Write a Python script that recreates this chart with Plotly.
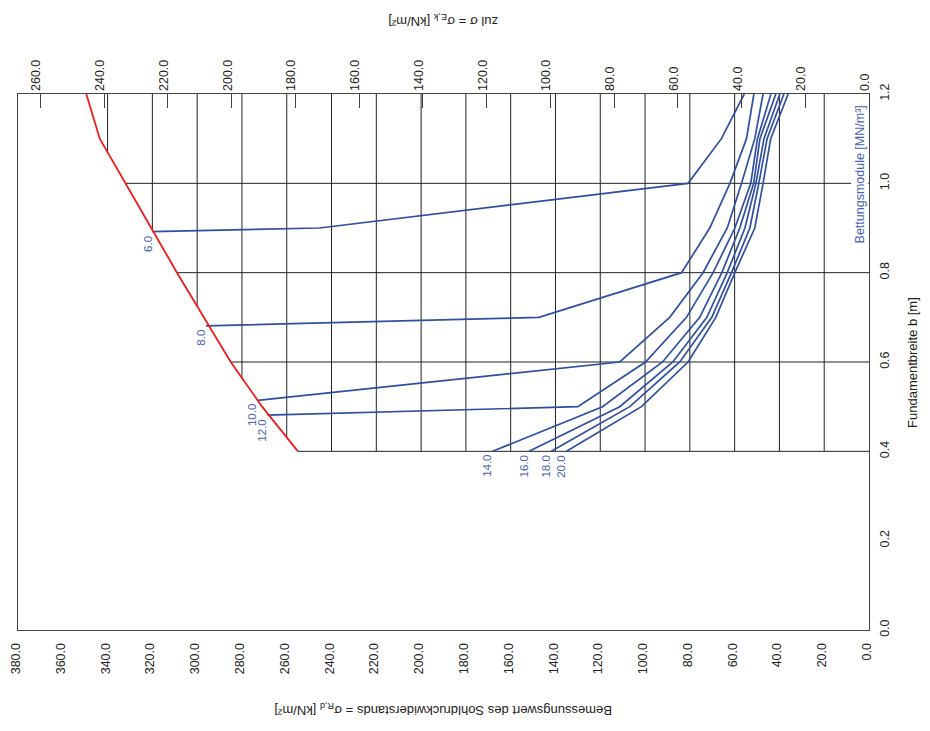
import numpy as np
import plotly.graph_objects as go

# ---------------- data (sigma_R,d in kN/m2 on the bottom axis, b in m) ----------------
red_b = [0.4, 0.5, 0.6, 0.7, 0.8, 0.9, 1.0, 1.1, 1.2]
red_sigma = [255.0, 271.0, 285.0, 297.0, 309.0, 320.5, 332.0, 343.5, 349.5]

ks_names = ["6.0", "8.0", "10.0", "12.0", "14.0", "16.0", "18.0", "20.0"]

ks6_b = [0.892, 0.9, 1.0, 1.1, 1.2]
ks6_sigma = [320.0, 245.4, 80.8, 65.9, 55.7]
ks8_b = [0.681, 0.7, 0.8, 0.9, 1.0, 1.1, 1.2]
ks8_sigma = [296.1, 147.4, 83.7, 71.1, 62.1, 54.7, 51.4]
ks10_b = [0.514, 0.6, 0.7, 0.8, 0.9, 1.0, 1.1, 1.2]
ks10_sigma = [273.0, 111.3, 89.0, 74.1, 63.3, 56.9, 51.0, 47.3]
ks12_b = [0.481, 0.5, 0.6, 0.7, 0.8, 0.9, 1.0, 1.1, 1.2]
ks12_sigma = [268.6, 130.0, 99.8, 81.5, 69.6, 59.9, 52.8, 49.8, 43.8]
ks14_b = [0.4, 0.5, 0.6, 0.7, 0.8, 0.9, 1.0, 1.1, 1.2]
ks14_sigma = [168.1, 119.0, 92.2, 75.6, 65.7, 57.7, 51.5, 48.7, 41.6]
ks16_b = [0.4, 0.5, 0.6, 0.7, 0.8, 0.9, 1.0, 1.1, 1.2]
ks16_sigma = [151.8, 111.3, 87.6, 72.4, 63.3, 55.4, 50.5, 46.9, 39.8]
ks18_b = [0.4, 0.5, 0.6, 0.7, 0.8, 0.9, 1.0, 1.1, 1.2]
ks18_sigma = [141.9, 106.8, 84.5, 70.2, 61.4, 53.2, 49.2, 45.5, 38.0]
ks20_b = [0.4, 0.5, 0.6, 0.7, 0.8, 0.9, 1.0, 1.1, 1.2]
ks20_sigma = [135.1, 101.6, 80.8, 68.4, 59.9, 51.0, 47.3, 43.9, 36.1]

grid_sigma = list(range(20, 360, 20))      # vertical grid (bottom axis values)
grid_b = [0.4, 0.6, 0.8, 1.0]               # horizontal grid

bottom_range = [380, 0]
top_range = [267, 0]
top_ticks = list(range(0, 280, 20))

BLUE = "#2F4FA2"
BLUE_TXT = "#4463B3"
RED = "#EE1C1C"
GRID = "#222222"
FONT = "Liberation Sans, Arial, Helvetica, sans-serif"

fig = go.Figure()

# grid lines clipped by the red boundary
for s in grid_sigma:
    if s > red_sigma[-1]:
        continue
    b0 = float(np.interp(s, red_sigma, red_b))
    fig.add_shape(type="line", xref="x", yref="y", x0=s, x1=s, y0=max(b0, 0.4), y1=1.2,
                  line=dict(color=GRID, width=1), layer="below")
for bb in grid_b:
    s0 = float(np.interp(bb, red_b, red_sigma))
    fig.add_shape(type="line", xref="x", yref="y", x0=s0, x1=0, y0=bb, y1=bb,
                  line=dict(color=GRID, width=1), layer="below")

curves = [(ks6_sigma, ks6_b), (ks8_sigma, ks8_b), (ks10_sigma, ks10_b), (ks12_sigma, ks12_b),
          (ks14_sigma, ks14_b), (ks16_sigma, ks16_b), (ks18_sigma, ks18_b), (ks20_sigma, ks20_b)]

for name, (xs, ys) in zip(ks_names, curves):
    fig.add_trace(go.Scatter(x=xs, y=ys, mode="lines", line=dict(color=BLUE, width=1.7),
                             showlegend=False, hoverinfo="skip", xaxis="x", yaxis="y"))
    fig.add_annotation(x=xs[0], y=ys[0], xref="x", yref="y", text=name, showarrow=False,
                       textangle=-90, xanchor="center", yanchor="top", xshift=-5, yshift=-2,
                       font=dict(family=FONT, size=11.5, color=BLUE_TXT))

fig.add_trace(go.Scatter(x=red_sigma, y=red_b, mode="lines", line=dict(color=RED, width=1.8),
                         showlegend=False, hoverinfo="skip", xaxis="x", yaxis="y"))

# dummy trace for the top axis
fig.add_trace(go.Scatter(x=top_ticks, y=[None] * len(top_ticks), mode="lines",
                         showlegend=False, hoverinfo="skip", xaxis="x2", yaxis="y"))

fig.add_annotation(x=4, y=1.02, xref="x", yref="y", text="Bettungsmodule [MN/m³]",
                   showarrow=False, textangle=-90, bgcolor="white",
                   xanchor="center", yanchor="middle",
                   font=dict(family=FONT, size=12.5, color=BLUE_TXT))

fig.add_annotation(x=0.5, y=1.136, xref="paper", yref="paper",
                   text="zul σ = σ<sub>E,k</sub> [kN/m²]", showarrow=False, textangle=180,
                   xanchor="center", yanchor="middle",
                   font=dict(family=FONT, size=13, color="#222"))
fig.add_annotation(x=0.5, y=-0.147, xref="paper", yref="paper",
                   text="Bemessungswert des Sohldruckwiderstands = σ<sub>R,d</sub> [kN/m²]",
                   showarrow=False, textangle=180, xanchor="center", yanchor="middle",
                   font=dict(family=FONT, size=13, color="#222"))
fig.add_annotation(x=1.0505, y=0.5, xref="paper", yref="paper",
                   text="Fundamentbreite b [m]", showarrow=False, textangle=-90,
                   xanchor="center", yanchor="middle",
                   font=dict(family=FONT, size=13, color="#222"))

axis_common = dict(showgrid=False, zeroline=False, tickformat=".1f", tickangle=-90,
                   automargin=False,
                   tickfont=dict(family=FONT, size=12.5, color="#222"))

fig.update_layout(
    width=930, height=731,
    margin=dict(l=10, r=69, t=86, b=109, autoexpand=False),
    paper_bgcolor="white", plot_bgcolor="white",
    xaxis=dict(range=bottom_range, dtick=20, tick0=0, ticks="", showline=True,
               linecolor="#444", linewidth=1, mirror=True, ticklabelstandoff=7,
               ticklabelshift=2, **axis_common),
    xaxis2=dict(range=top_range, overlaying="x", side="top", tickvals=top_ticks,
                ticks="inside", ticklen=14, tickcolor="#444", showline=False,
                ticklabelstandoff=2, ticklabelshift=4, **axis_common),
    yaxis=dict(range=[0, 1.2], dtick=0.2, tick0=0, side="right", ticks="", showline=True,
               linecolor="#444", linewidth=1, mirror=True, ticklabelstandoff=4, **axis_common),
)

fig.write_html("out.html")
